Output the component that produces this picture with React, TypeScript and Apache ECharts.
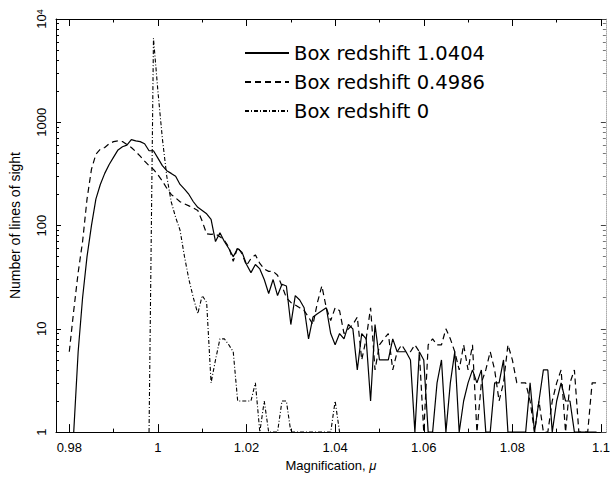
import React, { useEffect, useRef } from "react";
import * as echarts from "echarts";

// Histogram bins: first bin at mu = 0.980, bin width 0.001 (120 bins).
const BIN_START = 0.98;
const BIN_WIDTH = 0.001;

const SERIES_NAMES = ["Box redshift 1.0404", "Box redshift 0.4986", "Box redshift 0"];

// Number of lines of sight per bin (null = not drawn)
const countsZ1040: (number | null)[] = [
  null, 1, 6, 20, 50, 100, 180, 250, 320, 390,
  460, 540, 580, 600, 680, 660, 650, 620, 530, 530,
  450, 380, 340, 320, 300, 250, 225, 200, 170, 150,
  140, 130, 115, 70, 85, 70, 60, 50, 60, 55,
  42, 35, 42, 38, 30, 22, 30, 21, 27, 26,
  11, 21, 19, 16, 8, 13, 14, 15, 16, 9,
  7, 9, 8, 11, 10, 4, 9, 8, 2, 11,
  5, 5, 5, 8, 6, 6, 6, 5, 1, 6,
  5, 1, 1, 3, 5, 1, 3, 6, 1, 2,
  3, 4, 3, 4, 1, 1, 3, 3, 5, 1,
  1, 1, 1, 1, 3, 1, 2, 4, 4, 1,
  2, 3, 2, 2, 1, 1, 1, 1, 1, 1,
];

const countsZ0499: (number | null)[] = [
  6, 15, 35, 70, 180, 350, 490, 550, 570, 620,
  650, 660, 650, 610, 570, 520, 470, 420, 380, 350,
  310, 270, 230, 200, 185, 170, 162, 155, 148, 140,
  110, 83, 82, 83, 78, 72, 62, 45, 62, 53,
  41, 48, 52, 43, 38, 36, 36, 33, 26, 20,
  18, 17, 16, 15, 13, 11, 18, 26, 16, 12,
  16, 15, 9, 10, 11, 13, 5, 8, 16, 4,
  7, 8, 9, 4, 6, 7, 6, 6, 7, 6,
  1, 7, 8, 7, 7, 10, 8, 6, 4, 7,
  4, 7, 1, 3, 4, 6, 4, 2, 3, 7,
  5, 3, 3, 3, 2, 1, 2, 1, 1, 2,
  3, 4, 1, 3, 4, 1, 1, 1, 3, 3,
];

const countsZ0: (number | null)[] = [
  null, null, null, null, null, null, null, null, null, null,
  null, null, null, null, null, null, null, null, 1, 6500,
  2000, 700, 300, 170, 120, 90, 50, 30, 20, 14,
  21, 18, 3, 5, 8, 8, 7, 6, 2, 2,
  2, 2, 3, 1, 2, 1, 1, 1, 2, 2,
  1, 1, 1, 1, 1, 1, 1, 1, 1, 1,
  2, 1, null, null, null, null, null, null, null, null,
  null, null, null, null, null, null, null, null, null, null,
  null, null, null, null, null, null, null, null, null, null,
  null, null, null, null, null, null, null, null, null, null,
  null, null, null, null, null, null, null, null, null, null,
  null, null, null, null, null, null, null, null, null, null,
];

const X_MAJOR = [0.98, 1, 1.02, 1.04, 1.06, 1.08, 1.1];
const X_MINOR = [0.99, 1.01, 1.03, 1.05, 1.07, 1.09];
const Y_DECADES = [1, 10, 100, 1000];
const Y_LABELS = [1, 10, 100, 1000, 10000];

const X_MIN = 0.977;
const X_MAX = 1.1011;

const FONT = "Liberation Sans";

function toPoints(counts: (number | null)[]) {
  return counts.map((c, i) => {
    const mu = +(BIN_START + i * BIN_WIDTH).toFixed(3);
    return [mu, c == null ? null : c];
  });
}

function minorLogTicks(): number[] {
  const out: number[] = [];
  Y_DECADES.forEach((d) => {
    for (let k = 2; k <= 9; k++) out.push(Math.log10(k * d));
  });
  return out;
}

export default function App() {
  const ref = useRef<HTMLDivElement>(null);

  useEffect(() => {
    if (!ref.current) return;
    const chart = echarts.init(ref.current, null, { renderer: "svg" });
    const black = "#000";
    const tickStyle = { color: black, width: 1 };

    const xBase = {
      type: "value" as const,
      min: X_MIN,
      max: X_MAX,
      splitLine: { show: false },
    };

    const option: any = {
      animation: false,
      backgroundColor: "#fff",
      grid: { left: 53, right: 2, top: 19, bottom: 40 },
      legend: {
        orient: "vertical",
        left: 244,
        top: 43,
        padding: 0,
        itemWidth: 44,
        itemHeight: 14,
        itemGap: 9,
        itemStyle: { opacity: 0 },
        textStyle: { fontFamily: "DejaVu Sans", fontSize: 19.5, lineHeight: 20, color: black },
        data: SERIES_NAMES,
      },
      xAxis: [
        {
          ...xBase,
          position: "bottom",
          axisLine: { show: true, lineStyle: { color: black, width: 1 } },
          axisTick: { show: true, inside: true, length: 8, customValues: X_MAJOR, lineStyle: tickStyle },
          axisLabel: {
            customValues: X_MAJOR,
            margin: 9,
            color: black,
            fontFamily: FONT,
            fontSize: 13,
            formatter: (v: number) => String(+v.toFixed(2)),
          },
          name: "Magnification, {m|μ}",
          nameLocation: "middle",
          nameGap: 25,
          nameTextStyle: {
            color: black,
            fontFamily: FONT,
            fontSize: 13,
            rich: { m: { fontFamily: FONT, fontSize: 13, fontStyle: "italic", color: black } },
          },
        },
        {
          ...xBase,
          position: "bottom",
          axisLine: { show: false },
          axisTick: { show: true, inside: true, length: 3.5, customValues: X_MINOR, lineStyle: tickStyle },
          axisLabel: { show: false },
        },
        {
          ...xBase,
          position: "top",
          axisLine: { show: true, lineStyle: { color: black, width: 1 } },
          axisTick: { show: true, inside: true, length: 7, customValues: X_MAJOR, lineStyle: tickStyle },
          axisLabel: { show: false },
        },
        {
          ...xBase,
          position: "top",
          axisLine: { show: false },
          axisTick: { show: true, inside: true, length: 3.5, customValues: X_MINOR, lineStyle: tickStyle },
          axisLabel: { show: false },
        },
      ],
      yAxis: [
        {
          type: "log",
          logBase: 10,
          min: 1,
          max: 10000,
          position: "left",
          splitLine: { show: false },
          axisLine: { show: true, lineStyle: { color: black, width: 1 } },
          axisTick: { show: true, inside: true, length: 5, lineStyle: tickStyle },
          axisLabel: { show: false },
          name: "Number of lines of sight",
          nameLocation: "middle",
          nameGap: 34,
          nameTextStyle: { color: black, fontFamily: FONT, fontSize: 14 },
        },
        {
          type: "value",
          min: 0,
          max: 4,
          position: "left",
          splitLine: { show: false },
          axisLine: { show: false },
          axisTick: { show: true, inside: true, length: 3, customValues: minorLogTicks(), lineStyle: tickStyle },
          axisLabel: { show: false },
        },
        {
          type: "log",
          logBase: 10,
          min: 1,
          max: 10000,
          position: "right",
          splitLine: { show: false },
          axisLine: { show: true, lineStyle: { color: "#aaa", width: 1, type: "dotted" } },
          axisTick: { show: true, inside: true, length: 5, lineStyle: { color: "#444", width: 1 } },
          axisLabel: { show: false },
        },
        {
          type: "value",
          min: 0,
          max: 4,
          position: "right",
          splitLine: { show: false },
          axisLine: { show: false },
          axisTick: { show: true, inside: true, length: 3, customValues: minorLogTicks(), lineStyle: { color: "#777", width: 1 } },
          axisLabel: { show: false },
        },
      ],
      series: [
        {
          name: SERIES_NAMES[0],
          type: "line",
          xAxisIndex: 0,
          yAxisIndex: 0,
          symbol: "none",
          showSymbol: false,
          connectNulls: false,
          lineStyle: { color: black, width: 1.2, type: "solid" },
          itemStyle: { color: black },
          data: toPoints(countsZ1040),
        },
        {
          name: SERIES_NAMES[1],
          type: "line",
          xAxisIndex: 0,
          yAxisIndex: 0,
          symbol: "none",
          showSymbol: false,
          connectNulls: false,
          lineStyle: { color: black, width: 1.2, type: [6, 4] },
          itemStyle: { color: black },
          data: toPoints(countsZ0499),
        },
        {
          name: SERIES_NAMES[2],
          type: "line",
          xAxisIndex: 0,
          yAxisIndex: 0,
          symbol: "none",
          showSymbol: false,
          connectNulls: false,
          lineStyle: { color: black, width: 1.1, type: [4, 2, 1, 2] },
          itemStyle: { color: black },
          data: toPoints(countsZ0),
        },
      ],
    };

    chart.setOption(option);

    // Vertical tick labels for the logarithmic axis: each one sits in a group
    // rotated a quarter turn, anchored at its tick on the axis scale.
    const axisX = 53;
    const labels = Y_LABELS.map((v) => {
      const py = chart.convertToPixel({ yAxisIndex: 0 }, v) as unknown as number;
      const isTop = v >= 10000;
      return {
        type: "group",
        x: axisX - 5,
        y: py,
        rotation: Math.PI / 2,
        silent: true,
        children: [
          {
            type: "text",
            x: 0,
            y: 0,
            style: {
              text: isTop ? "{n|10}{s|4}" : String(v),
              align: "center",
              verticalAlign: "bottom",
              fill: black,
              fontFamily: FONT,
              fontSize: 13,
              rich: {
                n: { fontFamily: FONT, fontSize: 13, lineHeight: 13, verticalAlign: "bottom", padding: [5, 0, 0, 0], fill: black },
                s: { fontFamily: FONT, fontSize: 9, lineHeight: 9, verticalAlign: "top", fill: black },
              },
            },
          },
        ],
      };
    });
    chart.setOption({ graphic: { elements: labels } });

    return () => chart.dispose();
  }, []);

  return (
    <div
      ref={ref}
      style={{ position: "fixed", left: 0, top: 0, width: 613, height: 477, background: "#fff" }}
    />
  );
}
